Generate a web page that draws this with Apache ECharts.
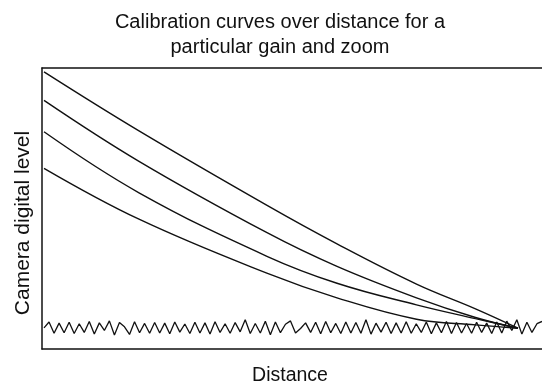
<!DOCTYPE html>
<html>
<head>
<meta charset="utf-8">
<script src="https://cdn.jsdelivr.net/npm/echarts@6/dist/echarts.min.js"></script>
<style>
html,body{margin:0;padding:0;background:#fff;}
#chart{width:542px;height:391px;}
</style>
</head>
<body>
<div id="chart"></div>
<script>
var titleText = 'Calibration curves over distance for a\nparticular gain and zoom';
var xName = 'Distance';
var yName = 'Camera digital level';

var distance = [0.4, 19.4, 45.1, 59.0, 74.9, 86.7, 95.2];
var curve1 = [98.6, 77.6, 51.0, 37.4, 23.1, 14.3, 7.4];
var curve2 = [88.5, 66.8, 41.3, 29.4, 18.2, 11.2, 7.4];
var curve3 = [77.3, 55.6, 32.9, 23.4, 15.7, 10.8, 7.4];
var curve4 = [64.3, 46.2, 26.9, 18.2, 10.6, 8.6, 7.4];

var noise = [7.5,9.6,5.6,9.2,5.8,9.5,5.5,9.0,5.9,9.8,5.3,9.3,6.6,10.0,5.0,9.4,7.9,5.2,9.7,5.8,
9.1,5.6,9.4,5.7,9.2,5.4,9.6,6.0,8.9,5.5,9.5,5.7,9.3,5.3,9.7,5.9,9.0,5.6,9.4,6.1,
10.4,5.5,9.1,5.7,9.9,5.1,9.6,5.8,8.8,10.0,5.7,7.3,9.3,5.9,9.5,5.4,9.8,5.8,9.1,5.5,
9.6,5.7,9.4,5.6,10.4,5.3,9.2,6.0,9.5,5.5,9.3,5.7,9.7,5.6,9.0,5.9,9.6,5.4,9.3,5.8,
9.8,5.5,9.4,5.7,9.1,5.6,9.5,5.9,9.2,5.5,9.6,5.7,9.9,6.6,10.4,5.3,9.5,5.9,9.0,9.8];
var noiseStart = 0.4, noiseEnd = 100;

function pairs(xs, ys){ return ys.map(function(v,i){ return [xs[i], v]; }); }
var noiseData = noise.map(function(v,i){
  return [noiseStart + (noiseEnd - noiseStart) * i / (noise.length - 1), v];
});

var FONT = '"Liberation Sans", Arial, sans-serif';
var lineStyle = {color:'#111', width:1.4};
function curve(data){
  return {type:'line', data:data, smooth:0.4, showSymbol:false, symbol:'none',
    lineStyle:lineStyle, silent:true, animation:false};
}
var frameLine = {show:true, onZero:false, lineStyle:{color:'#111', width:1.5}};

var chart = echarts.init(document.getElementById('chart'), null, {renderer:'canvas'});
chart.setOption({
  backgroundColor:'#fff',
  animation:false,
  title:{
    text:titleText, left:275, top:5, textAlign:'center',
    textStyle:{fontFamily:FONT, fontSize:20, fontWeight:'normal', color:'#111', lineHeight:25}
  },
  grid:{left:42, top:68, right:0, bottom:37},
  xAxis:[{type:'value', min:0, max:100, position:'bottom', axisLine:frameLine, axisTick:{show:false},
    axisLabel:{show:false}, splitLine:{show:false},
    name:xName, nameLocation:'middle', nameGap:17,
    nameTextStyle:{fontFamily:FONT, fontSize:19.5, color:'#111', padding:[0,0,0,-4]}},
    {type:'value', min:0, max:100, position:'top', axisLine:frameLine, axisTick:{show:false},
    axisLabel:{show:false}, splitLine:{show:false}}],
  yAxis:{type:'value', min:0, max:100, axisLine:frameLine, axisTick:{show:false},
    axisLabel:{show:false}, splitLine:{show:false}},
  graphic:[{
    type:'text', x:23, y:223, rotation:Math.PI/2,
    style:{text:yName, fontFamily:FONT, fontSize:21, fill:'#111', textAlign:'center', textVerticalAlign:'middle'}
  }],
  series:[
    {type:'line', data:noiseData, showSymbol:false, symbol:'none', lineStyle:{color:'#111', width:1.3}, silent:true, animation:false},
    curve(pairs(distance, curve1)),
    curve(pairs(distance, curve2)),
    curve(pairs(distance, curve3)),
    curve(pairs(distance, curve4))
  ]
});
</script>
</body>
</html>
